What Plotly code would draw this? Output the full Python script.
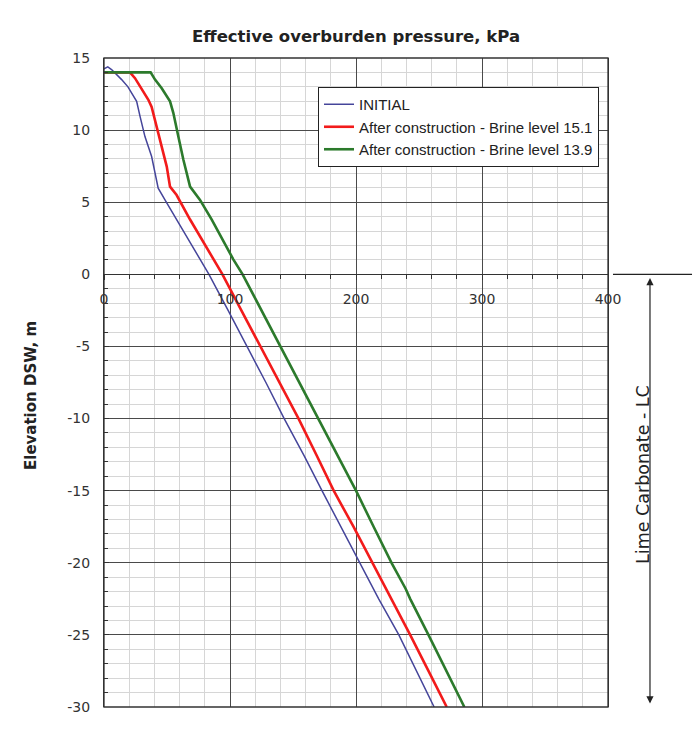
import plotly.graph_objects as go

# ---------------- data ----------------
series_names = [
    "INITIAL",
    "After construction - Brine level 15.1",
    "After construction - Brine level 13.9",
]

initial_p = [0, 3, 6, 9, 14, 19, 22, 25.9, 28.6, 32.5, 37.8, 41.8, 43, 48.4, 57.6, 76,
             83.3, 98.5, 113.8, 128.5, 143, 159, 173, 188, 202.5, 213.7, 218, 234, 248, 262]
initial_z = [14.25, 14.38, 14.2, 13.95, 13.5, 13.0, 12.6, 12.0, 10.95, 9.55, 8.17, 6.55, 5.97, 5.16, 3.8, 1.04,
             0, -2.5, -5, -7.5, -10, -12.6, -15, -17.5, -20, -21.8, -22.5, -25, -27.5, -30]

brine151_p = [0, 20.6, 24.6, 28.6, 35.2, 37.8, 41.8, 45.8, 49.8, 52.4, 57.6, 68.3, 86.7,
              94, 109, 124, 139, 154.4, 169, 182.3, 198, 213, 224.3, 228, 243, 257.5, 272]
brine151_z = [14.0, 14.0, 13.6, 13.0, 12.1, 11.6, 10.25, 8.86, 7.47, 6.08, 5.5, 3.8, 1.04,
              0, -2.5, -5, -7.5, -10, -12.6, -15, -17.5, -20, -21.8, -22.5, -25, -27.5, -30]

brine139_p = [0, 37, 40.5, 45.8, 52.4, 55, 59, 63, 68.3, 76.2, 85.5, 102.6,
              110, 125, 139.8, 155, 170.4, 185.5, 200, 214, 228.2, 239.4, 243, 257.5, 271.5, 286]
brine139_z = [14.0, 14.0, 13.5, 12.9, 12.0, 11.2, 9.55, 7.94, 6.08, 5.16, 3.8, 1.04,
              0, -2.5, -5, -7.5, -10, -12.6, -15, -17.5, -20, -21.8, -22.5, -25, -27.5, -30]

x_ticks = [0, 100, 200, 300, 400]
y_ticks = [15, 10, 5, 0, -5, -10, -15, -20, -25, -30]

colors = ["#45459a", "#f21b1b", "#2c7a2c"]
widths = [1.5, 2.6, 2.6]

FONT = "DejaVu Sans"

fig = go.Figure()
for name, p, z, c, w in zip(series_names,
                            [initial_p, brine151_p, brine139_p],
                            [initial_z, brine151_z, brine139_z],
                            colors, widths):
    fig.add_trace(go.Scatter(x=p, y=z, mode="lines", name=name,
                             line=dict(color=c, width=w)))

fig.update_layout(
    width=697, height=729,
    margin=dict(l=104, r=89, t=58, b=22),
    paper_bgcolor="white", plot_bgcolor="white",
    showlegend=True,
    legend=dict(x=0.4246, y=0.9553, xanchor="left", yanchor="top",
                bgcolor="white", bordercolor="#222", borderwidth=1,
                font=dict(family="Liberation Sans", size=15, color="#222"),
                itemwidth=30, tracegroupgap=0),
    xaxis=dict(range=[0, 400], tickvals=x_ticks, ticktext=[str(v) for v in x_ticks],
               anchor="free", position=2/3,
               showline=True, linecolor="#333", linewidth=1.3,
               showgrid=True, gridcolor="#4a4a4a", gridwidth=1.2,
               zeroline=False, ticks="outside", ticklen=5, tickcolor="#333",
               ticklabelstandoff=7,
               tickfont=dict(family=FONT, size=14, color="#333"),
               minor=dict(dtick=20, showgrid=True, gridcolor="#d6d6d6", gridwidth=1,
                          ticks="outside", ticklen=4, tickcolor="#333")),
    yaxis=dict(range=[-30, 15], tickvals=y_ticks, ticktext=[str(v) for v in y_ticks],
               showline=True, linecolor="#333", linewidth=1.3, mirror=True,
               showgrid=True, gridcolor="#4a4a4a", gridwidth=1.2,
               zeroline=False, ticks="inside", ticklen=5, tickcolor="#333",
               ticklabelstandoff=10,
               tickfont=dict(family=FONT, size=14, color="#333"),
               minor=dict(dtick=1, showgrid=True, gridcolor="#d6d6d6", gridwidth=1,
                          ticks="inside", ticklen=4, tickcolor="#333")),
)

# plot frame
fig.add_shape(type="rect", xref="paper", yref="paper", x0=0, x1=1, y0=0, y1=1,
              line=dict(color="#333", width=1.3), layer="above")

# right-hand boundary line at elevation 0
fig.add_shape(type="line", xref="paper", yref="y", x0=1.0099, x1=1.1667, y0=0, y1=0,
              line=dict(color="#222", width=1.3))

# double-headed arrow for the Lime Carbonate layer
fig.add_annotation(xref="paper", yref="paper", x=1.0833, y=0.661,
                   axref="pixel", ayref="pixel", ax=0, ay=427,
                   text="", showarrow=True, arrowside="end+start",
                   arrowhead=2, startarrowhead=2, arrowsize=1.2, startarrowsize=1.2,
                   arrowwidth=1.2, arrowcolor="#222")

fig.add_annotation(xref="paper", yref="paper", x=1.0932, y=0.359,
                   text="Lime Carbonate - LC", textangle=-90, showarrow=False,
                   font=dict(family=FONT, size=17.5, color="#222"))

# titles
fig.add_annotation(xref="paper", yref="paper", x=0.5, y=1.0508,
                   text="<b>Effective overburden pressure, kPa</b>", showarrow=False,
                   font=dict(family=FONT, size=16.5, color="#222"))
fig.add_annotation(xref="paper", yref="paper", x=-0.1667, y=0.4807,
                   text="<b>Elevation DSW, m</b>", textangle=-90, showarrow=False,
                   font=dict(family=FONT, size=15, color="#222"))

fig.write_html("out.html")
